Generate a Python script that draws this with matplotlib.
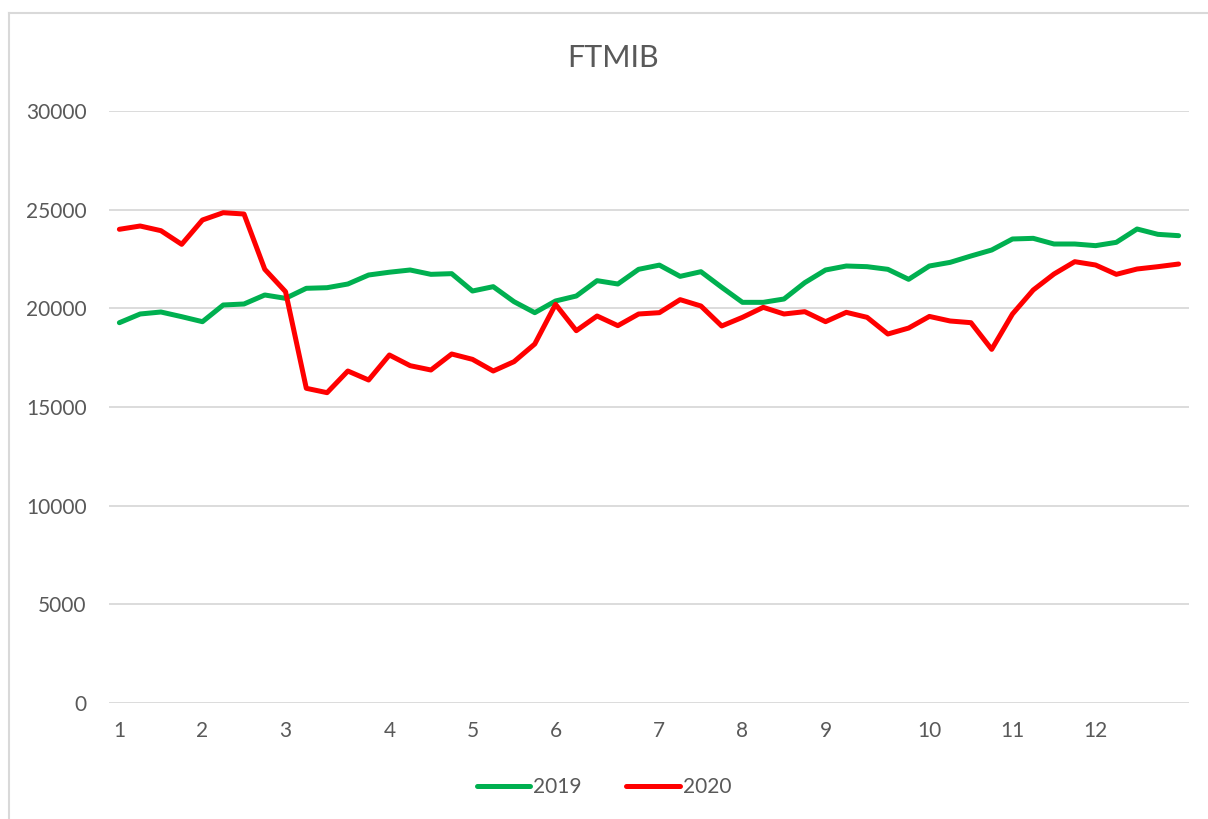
import matplotlib
matplotlib.use("Agg")
import matplotlib.pyplot as plt
from matplotlib.lines import Line2D

plt.rcParams['font.family'] = ['Lato', 'DejaVu Sans']

# === Weekly FTSE MIB closes === #
ftmib_2019 = [19272, 19713, 19814, 19577, 19323, 20169, 20220, 20676, 20507, 21015,
              21046, 21233, 21689, 21830, 21943, 21723, 21757, 20878, 21098, 20338,
              19780, 20372, 20625, 21402, 21233, 21977, 22190, 21620, 21857, 21066,
              20304, 20304, 20473, 21301, 21943, 22145, 22111, 21977, 21470, 22145,
              22330, 22652, 22956, 23514, 23547, 23260, 23260, 23176, 23345, 24020,
              23750, 23682]
ftmib_2020 = [24005, 24172, 23935, 23244, 24477, 24847, 24780, 21978, 20844, 15947,
              15726, 16824, 16368, 17635, 17094, 16875, 17686, 17415, 16824, 17297,
              18193, 20203, 18868, 19612, 19122, 19713, 19780, 20440, 20118, 19105,
              19544, 20051, 19713, 19831, 19324, 19797, 19544, 18699, 19000, 19590,
              19358, 19273, 17922, 19713, 20929, 21740, 22364, 22196, 21723, 21993,
              22111, 22246]

# month labels sit on the first week of each month
month_weeks = [0, 4, 8, 13, 17, 21, 26, 30, 34, 39, 43, 47]
month_labels = [str(m) for m in range(1, 13)]
y_ticks = [0, 5000, 10000, 15000, 20000, 25000, 30000]

text_col = '#595959'
grid_col = '#d9d9d9'

W, H = 1208, 819
fig = plt.figure(figsize=(W / 100, H / 100), dpi=100)
ax = fig.add_axes([109 / W, (H - 703) / H, (1189 - 109) / W, (703 - 111) / H])

weeks = list(range(len(ftmib_2019)))
ax.plot(weeks, ftmib_2019, color='#00b050', lw=3.6, label='2019', solid_capstyle='round')
ax.plot(weeks, ftmib_2020, color='#ff0000', lw=3.6, label='2020', solid_capstyle='round')

ax.set_xlim(-0.5, len(weeks) - 0.5)
ax.set_ylim(0, 30000)
ax.set_yticks(y_ticks)
ax.set_xticks(month_weeks)
ax.set_xticklabels(month_labels)
ax.grid(axis='y', color=grid_col, lw=1.3)
ax.set_axisbelow(True)
for s in ax.spines.values():
    s.set_visible(False)
ax.tick_params(axis='both', length=0, labelsize=15, labelcolor=text_col)
ax.tick_params(axis='y', pad=16)
ax.tick_params(axis='x', pad=13)

fig.text(613 / W, (H - 58) / H, 'FTMIB', ha='center', va='center',
         fontsize=22, color=text_col)

fig.legend(loc='center', bbox_to_anchor=(0.5, (H - 787) / H), ncol=2, frameon=False,
           fontsize=15, labelcolor=text_col, handlelength=2.55, handletextpad=0.15,
           columnspacing=2.15)

# chart area border (only top/left visible in the crop)
fig.add_artist(Line2D([8.5 / W, 8.5 / W], [0, (H - 13) / H], color=grid_col, lw=1.5,
                      transform=fig.transFigure))
fig.add_artist(Line2D([8.5 / W, 1], [(H - 13) / H, (H - 13) / H], color=grid_col, lw=1.5,
                      transform=fig.transFigure))

fig.savefig('out.png', dpi=100)
